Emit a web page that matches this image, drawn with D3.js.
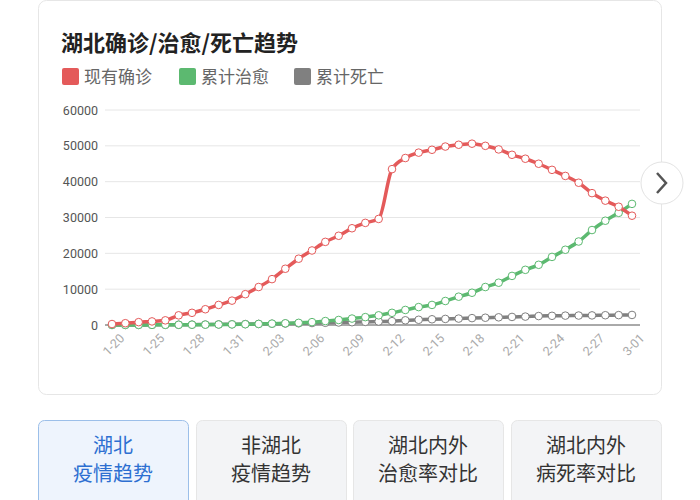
<!DOCTYPE html><html><head><meta charset="utf-8"><script src="https://cdn.jsdelivr.net/npm/d3@7"></script>
<style>body{margin:0;background:#fff;font-family:"Noto Sans CJK SC",sans-serif}</style></head><body><svg id="c" width="700" height="500"></svg>
<script>
const dates=["1-20","1-22","1-24","1-25","1-26","1-27","1-28","1-29","1-30","1-31","2-01","2-02","2-03","2-04","2-05","2-06","2-07","2-08","2-09","2-10","2-11","2-12","2-13","2-14","2-15","2-16","2-17","2-18","2-19","2-20","2-21","2-22","2-23","2-24","2-25","2-26","2-27","2-28","2-29","3-01"];
const existing=[270,500,800,1000,1300,2700,3400,4400,5600,6800,8600,10600,12800,15700,18500,20800,23200,24900,27000,28500,29600,43500,46600,48100,48900,49800,50300,50600,50000,49000,47500,46400,45000,43300,41600,39700,36800,34700,33000,30500];
const cured=[25,30,30,40,45,50,80,100,140,170,220,300,380,470,600,800,1100,1400,1800,2200,2700,3400,4200,5000,5600,6700,7900,9000,10600,11800,13700,15400,16800,19000,21000,23300,26500,29100,31300,33800];
const deaths=[6,17,24,39,52,76,100,125,162,204,249,294,350,414,479,549,618,699,780,871,974,1068,1310,1457,1596,1696,1789,1921,2029,2144,2250,2346,2495,2563,2615,2641,2682,2727,2761,2803];
const yTicks=[0,10000,20000,30000,40000,50000,60000];
const series=[{name:"现有确诊",color:"#e45a5a",v:existing},{name:"累计治愈",color:"#5cb970",v:cured},{name:"累计死亡",color:"#808080",v:deaths}];
const svg=d3.select("#c");
svg.append("rect").attr("x",38.5).attr("y",0.5).attr("width",623).attr("height",394).attr("rx",8).attr("fill","#fff").attr("stroke","#e6e6e6");
svg.append("text").attr("x",61).attr("y",51).attr("font-size",22).attr("font-weight","bold").attr("fill","#222").text("湖北确诊/治愈/死亡趋势");
const lx=[62,179,294];
series.forEach((s,i)=>{svg.append("rect").attr("x",lx[i]).attr("y",68).attr("width",17).attr("height",17).attr("rx",2).attr("fill",s.color);
svg.append("text").attr("x",lx[i]+22).attr("y",83).attr("font-size",17).attr("fill","#666").text(s.name);});
const x=d3.scalePoint().domain(dates).range([112,632]);
const y=d3.scaleLinear().domain([0,60000]).range([325,110]);
const gy=svg.append("g").attr("transform","translate(104,0)").call(d3.axisLeft(y).tickValues(yTicks).tickSize(0).tickPadding(6).tickFormat(d3.format("d")));
gy.select(".domain").remove();gy.selectAll("text").attr("font-size",12.5).attr("fill","#555").attr("font-family","Roboto,sans-serif");
svg.append("g").selectAll("line").data(yTicks.slice(1)).join("line").attr("x1",105).attr("x2",640).attr("y1",d=>y(d)).attr("y2",d=>y(d)).attr("stroke","#e6e6e6");
svg.append("line").attr("x1",105).attr("x2",640).attr("y1",325).attr("y2",325).attr("stroke","#555");
const gx=svg.append("g").attr("transform","translate(0,332)").call(d3.axisBottom(x).tickValues(dates.filter((d,i)=>i%3==0)).tickSize(0).tickPadding(4));
gx.select(".domain").remove();
gx.selectAll("text").attr("font-size",12.5).attr("fill","#aaa").attr("font-family","Roboto,sans-serif").attr("text-anchor","end").attr("dx","4").attr("dy","10").attr("transform","rotate(-45)");
const line=d3.line().x((d,i)=>x(dates[i])).y(d=>y(d)).curve(d3.curveMonotoneX);
[2,1,0].forEach(k=>{const s=series[k];
svg.append("path").attr("d",line(s.v)).attr("fill","none").attr("stroke",s.color).attr("stroke-width",3.5);
svg.append("g").selectAll("circle").data(s.v).join("circle").attr("cx",(d,i)=>x(dates[i])).attr("cy",d=>y(d)).attr("r",3.8).attr("fill","#fff").attr("stroke",s.color).attr("stroke-width",1);});
svg.append("circle").attr("cx",662).attr("cy",183).attr("r",21).attr("fill","#fff").attr("stroke","#e3e3e3");
svg.append("path").attr("d","M657,173 L666,183 L657,193").attr("fill","none").attr("stroke","#555").attr("stroke-width",2.5);
const btns=[["湖北","疫情趋势"],["非湖北","疫情趋势"],["湖北内外","治愈率对比"],["湖北内外","病死率对比"]];
const bx=[38,196,353,511];
btns.forEach((b,i)=>{const sel=i==0;
svg.append("rect").attr("x",bx[i]+0.5).attr("y",420.5).attr("width",150).attr("height",90).attr("rx",6).attr("fill",sel?"#eef4fd":"#f3f4f6").attr("stroke",sel?"#9cbfe9":"#e6e6e6");
b.forEach((t,j)=>svg.append("text").attr("x",bx[i]+75).attr("y",453+j*28).attr("text-anchor","middle").attr("font-size",20).attr("fill",sel?"#2d6fd1":"#333").text(t));});
</script></body></html>
